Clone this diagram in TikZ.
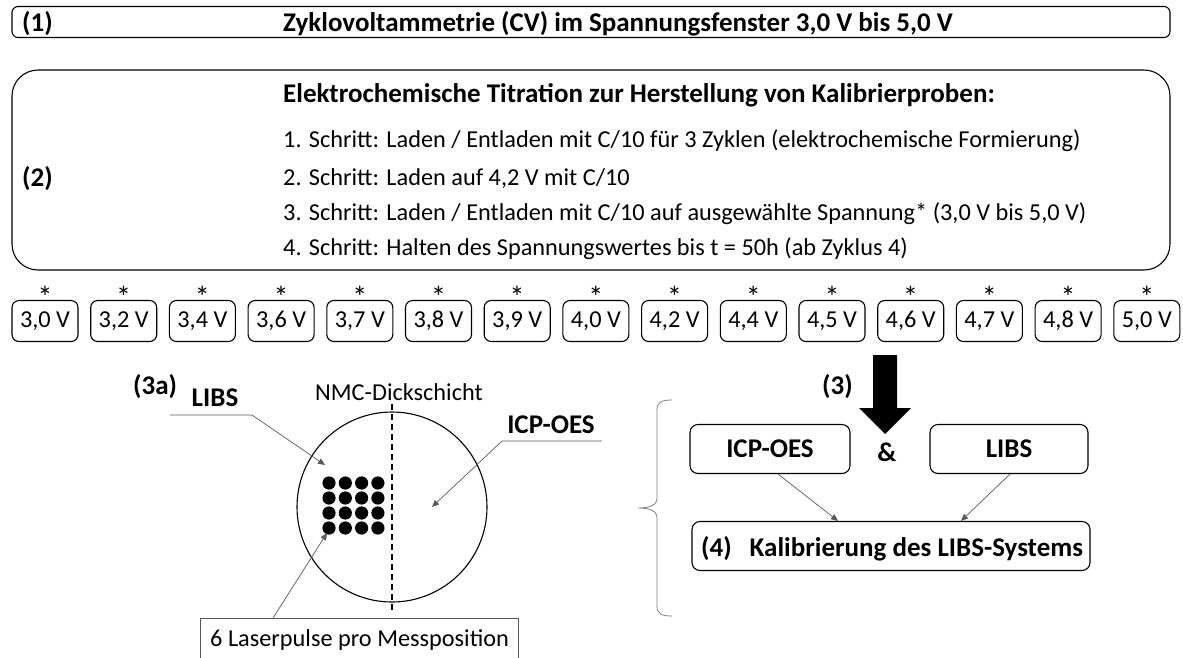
\documentclass[tikz,border=0pt]{standalone}
\usepackage{fontspec}
\setmainfont{Carlito}
\usetikzlibrary{arrows.meta}
\tikzset{
  fnt/.style={font=\fontsize{24.3}{28}\selectfont},
  bfnt/.style={font=\fontsize{27}{31}\selectfont\bfseries},
  sfnt/.style={font=\fontsize{30}{34}\selectfont},
  frame/.style={draw, line width=1.1pt, inner sep=0pt},
  vbox/.style={frame, rounded corners=7pt, minimum width=66pt, minimum height=41pt, fnt},
  txt/.style={fnt, inner sep=0pt, anchor=base west},
  btxt/.style={bfnt, inner sep=0pt, anchor=base west},
  ptr/.style={draw=black!65, line width=0.7pt, -{Triangle[length=7pt,width=6pt]}},
  gline/.style={draw=black!65, line width=0.7pt},
}
\begin{document}
\begin{tikzpicture}[x=1pt,y=-1pt]
\useasboundingbox (0,0) rectangle (1183,657);
% (1)
\node[frame, rounded corners=6pt, minimum width=1158pt, minimum height=31pt] (b1) at (591,22) {};
\node[btxt] (b1n) at (22,31) {(1)};
\node[btxt] (b1t) at (283,31) {Zyklovoltammetrie (CV) im Spannungsfenster 3,0 V bis 5,0 V};
% (2)
\node[frame, rounded corners=26pt, minimum width=1158pt, minimum height=200pt] (b2) at (591,170) {};
\node[btxt] (b2n) at (22,186) {(2)};
\node[btxt] (b2t) at (283,102) {Elektrochemische Titration zur Herstellung von Kalibrierproben:};
\node[txt] (s1) at (283,147) {1. Schritt: Laden / Entladen mit C/10 für 3 Zyklen (elektrochemische Formierung)};
\node[txt] (s2) at (283,185) {2. Schritt: Laden auf 4,2 V mit C/10};
\node[txt] (s3) at (283,220) {3. Schritt: Laden / Entladen mit C/10 auf ausgewählte Spannung* (3,0 V bis 5,0 V)};
\node[txt] (s4) at (283,255) {4. Schritt: Halten des Spannungswertes bis t = 50h (ab Zyklus 4)};
% voltage boxes
\foreach \v [count=\i from 0] in {{3,0 V},{3,2 V},{3,4 V},{3,6 V},{3,7 V},{3,8 V},{3,9 V},{4,0 V},{4,2 V},{4,4 V},{4,5 V},{4,6 V},{4,7 V},{4,8 V},{5,0 V}}{
  \node[vbox] (v\i) at ({45+78.7*\i},321) {\v};
  \node[sfnt, inner sep=0pt, anchor=base] (st\i) at ({45+78.7*\i},307) {*};
}
% (3a) scene
\node[btxt] (l3a) at (133,394) {(3a)};
\node[bfnt, inner sep=0pt] (libslab) at (215,398) {LIBS};
\node[fnt, inner sep=0pt] (nmc) at (399,392) {NMC-Dickschicht};
\node[bfnt, inner sep=0pt] (icplab) at (551,425) {ICP-OES};
\node[circle, draw, line width=1.1pt, minimum size=190pt, inner sep=0pt] (disc) at (392,507) {};
\draw[line width=1.2pt, dash pattern=on 6pt off 4pt] (392,404) -- (392,612);
\foreach \i in {0,...,3}{\foreach \j in {0,...,3}{
  \fill ({329+16.3*\i},{483+15*\j}) circle[radius=6.6pt];
}}
\coordinate (libsA) at (170,415);
\coordinate (libsB) at (252,415);
\coordinate (libsT) at (325,465);
\draw[ptr] (libsA) -- (libsB) -- (libsT);
\coordinate (icpA) at (602,441);
\coordinate (icpB) at (502,441);
\coordinate (icpT) at (432,507);
\draw[ptr] (icpA) -- (icpB) -- (icpT);
\node[fnt, inner sep=0pt, anchor=base west] (laser) at (210,646) {6 Laserpulse pro Messposition};
\draw[gline] (200,660) -- (200,618) -- (518,618) -- (518,660);
\coordinate (laserS) at (273,618);
\coordinate (laserT) at (327,533);
\draw[ptr] (laserS) -- (laserT);
% (3) right
\node[btxt] (l3) at (822,394) {(3)};
\fill (873,355) -- (897,355) -- (897,408) -- (911,408) -- (885,434) -- (859,408) -- (873,408) -- cycle;
\node[frame, rounded corners=8pt, minimum width=160pt, minimum height=49pt, bfnt] (icp) at (770,449) {ICP-OES};
\node[frame, rounded corners=8pt, minimum width=158pt, minimum height=49pt, bfnt] (libs) at (1009,449) {LIBS};
\node[bfnt, inner sep=0pt] (amp) at (887,452) {\&};
\node[frame, rounded corners=8pt, minimum width=398pt, minimum height=49pt] (cal) at (891,546) {};
\node[btxt] (calt) at (701,556) {(4)\hspace{18pt}Kalibrierung des LIBS-Systems};
\draw[ptr] ([xshift=8pt]icp.south) -- ([xshift=-53pt]cal.north);
\draw[ptr] ([xshift=1pt]libs.south) -- ([xshift=70pt]cal.north);
\draw[draw=black!50, line width=0.8pt] (672,400) .. controls (662,400) and (657,402) .. (657,410) -- (657,498) .. controls (657,505) and (650,508) .. (638,508) .. controls (650,508) and (657,511) .. (657,518) -- (657,606) .. controls (657,614) and (662,616) .. (672,616);
\end{tikzpicture}
\end{document}
